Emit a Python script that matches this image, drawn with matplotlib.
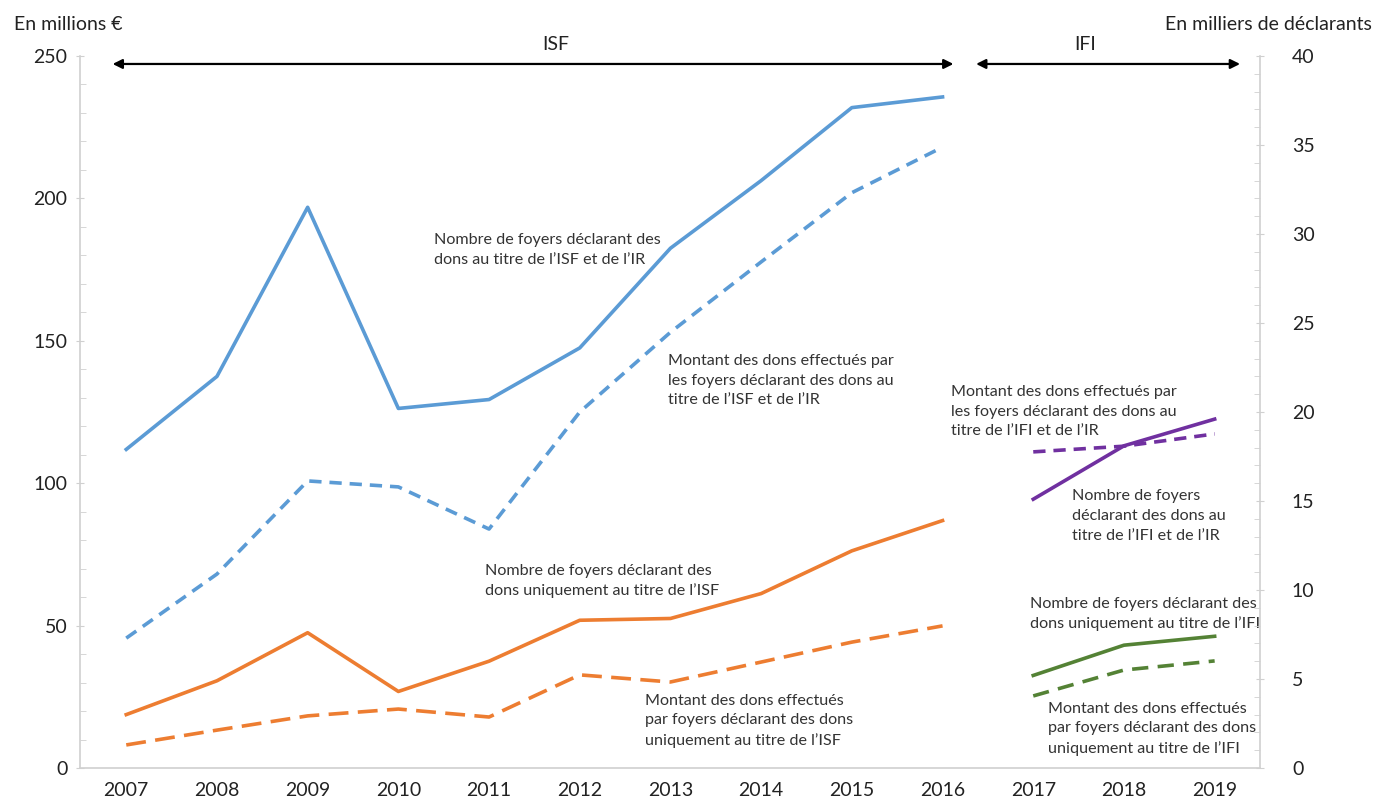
import numpy as np
import matplotlib.pyplot as plt

plt.rcParams['font.family'] = ['Lato', 'DejaVu Sans']

years_isf = [2007, 2008, 2009, 2010, 2011, 2012, 2013, 2014, 2015, 2016]
years_ifi = [2017, 2018, 2019]

# en milliers de déclarants (axe droit)
nb_isf_ir = [17.9, 22.0, 31.5, 20.2, 20.7, 23.6, 29.2, 33.0, 37.1, 37.7]
nb_isf_seul = [3.0, 4.9, 7.6, 4.3, 6.0, 8.3, 8.4, 9.8, 12.2, 13.9]
nb_ifi_ir = [15.1, 18.1, 19.6]
nb_ifi_seul = [5.2, 6.9, 7.4]

# en millions d'euros (axe gauche)
mt_isf_ir = [45.6, 68.1, 100.8, 98.7, 83.9, 125.0, 153.0, 177.7, 202.0, 218.0]
mt_isf_seul = [8.1, 13.3, 18.3, 20.7, 17.9, 32.7, 30.2, 37.2, 44.2, 49.9]
mt_ifi_ir = [111.0, 113.0, 117.3]
mt_ifi_seul = [25.3, 34.4, 37.6]

blue = '#5B9BD5'
orange = '#ED7D31'
purple = '#7030A0'
green = '#548235'
grey = '#d0d0d0'
txt = '#222222'

fig = plt.figure(figsize=(13.78, 7.98), dpi=100)
ax = fig.add_axes([80 / 1378, 1 - 768 / 798, 1180 / 1378, 712 / 798])
ax2 = ax.twinx()

lw = 2.6
dash = (0, (3.4, 2.2))
dash_long = (0, (5.5, 2.6))
ax.plot(years_isf, mt_isf_ir, color=blue, lw=lw, ls=dash)
ax.plot(years_isf, mt_isf_seul, color=orange, lw=lw, ls=dash_long)
ax.plot(years_ifi, mt_ifi_ir, color=purple, lw=lw, ls=dash)
ax.plot(years_ifi, mt_ifi_seul, color=green, lw=lw, ls=(0, (4.5, 2.6)))
ax2.plot(years_isf, nb_isf_ir, color=blue, lw=lw)
ax2.plot(years_isf, nb_isf_seul, color=orange, lw=lw)
ax2.plot(years_ifi, nb_ifi_ir, color=purple, lw=lw)
ax2.plot(years_ifi, nb_ifi_seul, color=green, lw=lw)

ax.set_xlim(2006.49, 2019.5)
ax.set_ylim(0, 250)
ax2.set_ylim(0, 40)

ax.set_xticks(years_isf + years_ifi)
ax.set_xticklabels([str(y) for y in years_isf + years_ifi])
ax.set_yticks(np.arange(0, 251, 50))
ax.set_yticks(np.arange(0, 251, 10), minor=True)
ax2.set_yticks(np.arange(0, 41, 5))
ax2.set_yticks(np.arange(0, 41, 1), minor=True)

for a in (ax, ax2):
    for s in a.spines.values():
        s.set_color(grey)
        s.set_linewidth(1.2)
    a.spines['top'].set_visible(False)
ax.spines['right'].set_visible(False)
ax2.spines['left'].set_visible(False)
ax2.spines['bottom'].set_visible(False)

ax.tick_params(axis='x', length=0, labelsize=14, colors=txt, pad=10)
ax.tick_params(axis='y', which='major', length=6, direction='inout', color=grey,
               labelsize=14, labelcolor=txt, pad=6)
ax.tick_params(axis='y', which='minor', length=4, direction='in', color=grey)
ax2.tick_params(axis='y', which='major', length=6, direction='inout', color=grey,
                labelsize=14, labelcolor=txt, pad=20)
ax2.tick_params(axis='y', which='minor', length=4, direction='in', color=grey)

fig.text(14 / 1378, 1 - 25 / 798, 'En millions €', fontsize=14, color=txt, va='center')
fig.text(1372 / 1378, 1 - 25 / 798, 'En milliers de déclarants', fontsize=14,
         color=txt, va='center', ha='right')

# flèches ISF / IFI
arrow = dict(arrowstyle='<|-|>', color='black', lw=1.6, mutation_scale=14,
             shrinkA=0, shrinkB=0)
ax.annotate('', xy=(2006.85, 247.2), xytext=(2016.12, 247.2), arrowprops=arrow,
            annotation_clip=False)
ax.annotate('', xy=(2016.37, 247.2), xytext=(2019.28, 247.2), arrowprops=arrow,
            annotation_clip=False)
ax.text(2011.73, 253.9, 'ISF', fontsize=14, color=txt, ha='center', va='center',
        clip_on=False)
ax.text(2017.57, 253.9, 'IFI', fontsize=14, color=txt, ha='center', va='center',
        clip_on=False)


def px2data(px, py):
    return 2007 + (px - 126) / 90.75, (768 - py) / 2.848


labels = [
    (434, 250, "Nombre de foyers déclarant des\ndons au titre de l’ISF et de l’IR"),
    (668, 381, "Montant des dons effectués par\nles foyers déclarant des dons au\ntitre de l’ISF et de l’IR"),
    (951, 412, "Montant des dons effectués par\nles foyers déclarant des dons au\ntitre de l’IFI et de l’IR"),
    (1072, 516, "Nombre de foyers\ndéclarant des dons au\ntitre de l’IFI et de l’IR"),
    (485, 581, "Nombre de foyers déclarant des\ndons uniquement au titre de l’ISF"),
    (1030, 614, "Nombre de foyers déclarant des\ndons uniquement au titre de l’IFI"),
    (645, 721, "Montant des dons effectués\npar foyers déclarant des dons\nuniquement au titre de l’ISF"),
    (1048, 729, "Montant des dons effectués\npar foyers déclarant des dons\nuniquement au titre de l’IFI"),
]
for px, py, s in labels:
    x, y = px2data(px, py)
    ax.text(x, y, s, fontsize=11.6, color='#333333',
            ha='left', va='center', linespacing=1.5, clip_on=False)

fig.savefig('out.png', dpi=100)
